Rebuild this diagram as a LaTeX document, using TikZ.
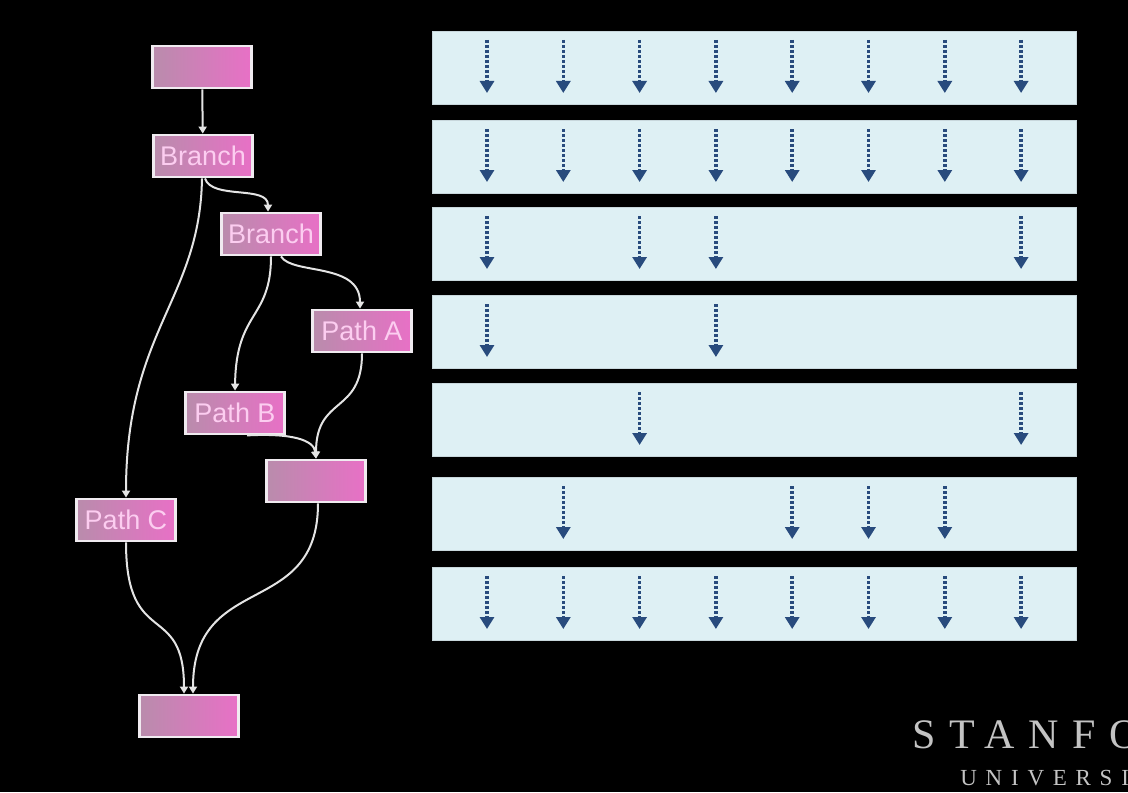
\documentclass[tikz,border=0pt]{standalone}
\usepackage{fontspec}
\setmainfont{Liberation Serif}
\newfontfamily\boxfont{Liberation Sans}
\usetikzlibrary{arrows.meta,calc}
\definecolor{pinkbox}{RGB}{232,112,198}
\definecolor{pinkgray}{RGB}{185,140,172}
\definecolor{pinktext}{RGB}{252,205,240}
\definecolor{rowfill}{RGB}{222,240,244}
\definecolor{rowedge}{RGB}{200,215,220}
\definecolor{arrowblue}{RGB}{40,75,125}
\definecolor{edgec}{RGB}{228,228,228}
\definecolor{logo}{RGB}{195,195,195}
\tikzset{
  fbox/.style={draw={rgb,255:red,240;green,235;blue,240}, line width=1.4pt,
    left color=pinkgray, right color=pinkbox, shading angle=90,
    minimum width=49.5pt, minimum height=21pt, inner sep=0pt,
    text=pinktext, font=\boxfont\fontsize{13.5}{14}\selectfont},
  flow/.style={draw=edgec, line width=1pt, -{Triangle[width=4pt,length=3.5pt]}},
  rowbox/.style={fill=rowfill, draw=rowedge, line width=0.5pt,
    minimum width=322pt, minimum height=36.5pt, inner sep=0pt, anchor=north west},
  darr/.style={draw=arrowblue, line width=1.8pt, dash pattern=on 1.6pt off 0.9pt,
    -{Triangle[width=7pt,length=6pt]}},
}
\begin{document}
\begin{tikzpicture}[x=0.5pt,y=-0.5pt]
\useasboundingbox (0,0) rectangle (1128,792);
\fill[black] (0,0) rectangle (1128,792);
\clip (0,0) rectangle (1128,792);

% flow graph nodes
\node[fbox] (top) at (202,67) {};
\node[fbox] (b1) at (203,156) {Branch};
\node[fbox] (b2) at (271,234) {Branch};
\node[fbox] (pa) at (362,331) {Path A};
\node[fbox] (pb) at (235,413) {Path B};
\node[fbox] (m) at (316,481) {};
\node[fbox] (pc) at (126,520) {Path C};
\node[fbox] (bot) at (189,716) {};

% flow connectors
\draw[flow] (top) -- (b1);
\draw[flow] ($(b1.south)+(2,0)$) .. controls (212,200) and (268,185) .. ($(b2.north)+(-3,0)$);
\draw[flow] ($(b1.south)+(-1,0)$) .. controls (200,300) and (126,330) .. (pc.north);
\draw[flow] (b2.south) .. controls (271,320) and (236,310) .. (pb.north);
\draw[flow] ($(b2.south)+(10,0)$) .. controls (292,275) and (360,262) .. ($(pa.north)+(-2,0)$);
\draw[flow] (pa.south) .. controls (362,415) and (316,395) .. (m.north);
\draw[flow] ($(pb.south)+(12,0)$) .. controls (292,433) and (314,440) .. (m.north);
\draw[flow] ($(m.south)+(2,0)$) .. controls (318,620) and (193,570) .. ($(bot.north)+(4,0)$);
\draw[flow] (pc.south) .. controls (126,650) and (184,600) .. ($(bot.north)+(-5,0)$);

% rows
\foreach \r/\yt/\cols in {1/31/{1,2,3,4,5,6,7,8}, 2/120/{1,2,3,4,5,6,7,8},
    3/207/{1,3,4,8}, 4/295/{1,4}, 5/383/{3,8}, 6/477/{2,5,6,7},
    7/567/{1,2,3,4,5,6,7,8}}{
  \node[rowbox] (r\r) at (432,\yt) {};
  \foreach \c in \cols {
    \draw[darr] ($(r\r.north west)+({55+(\c-1)*76.3},9)$) coordinate (s\r\c) -- ++(0,53) coordinate (e\r\c);
  }
}

% logo
\node[anchor=base west, inner sep=0pt, text=logo,
  font=\fontsize{21}{21}\selectfont\addfontfeature{LetterSpace=32}] (stan) at (912,748) {STANFORD};
\node[anchor=base west, inner sep=0pt, text=logo,
  font=\fontsize{11.5}{12}\selectfont\addfontfeature{LetterSpace=38}] (univ) at (960,785) {UNIVERSITY};
\end{tikzpicture}
\end{document}
